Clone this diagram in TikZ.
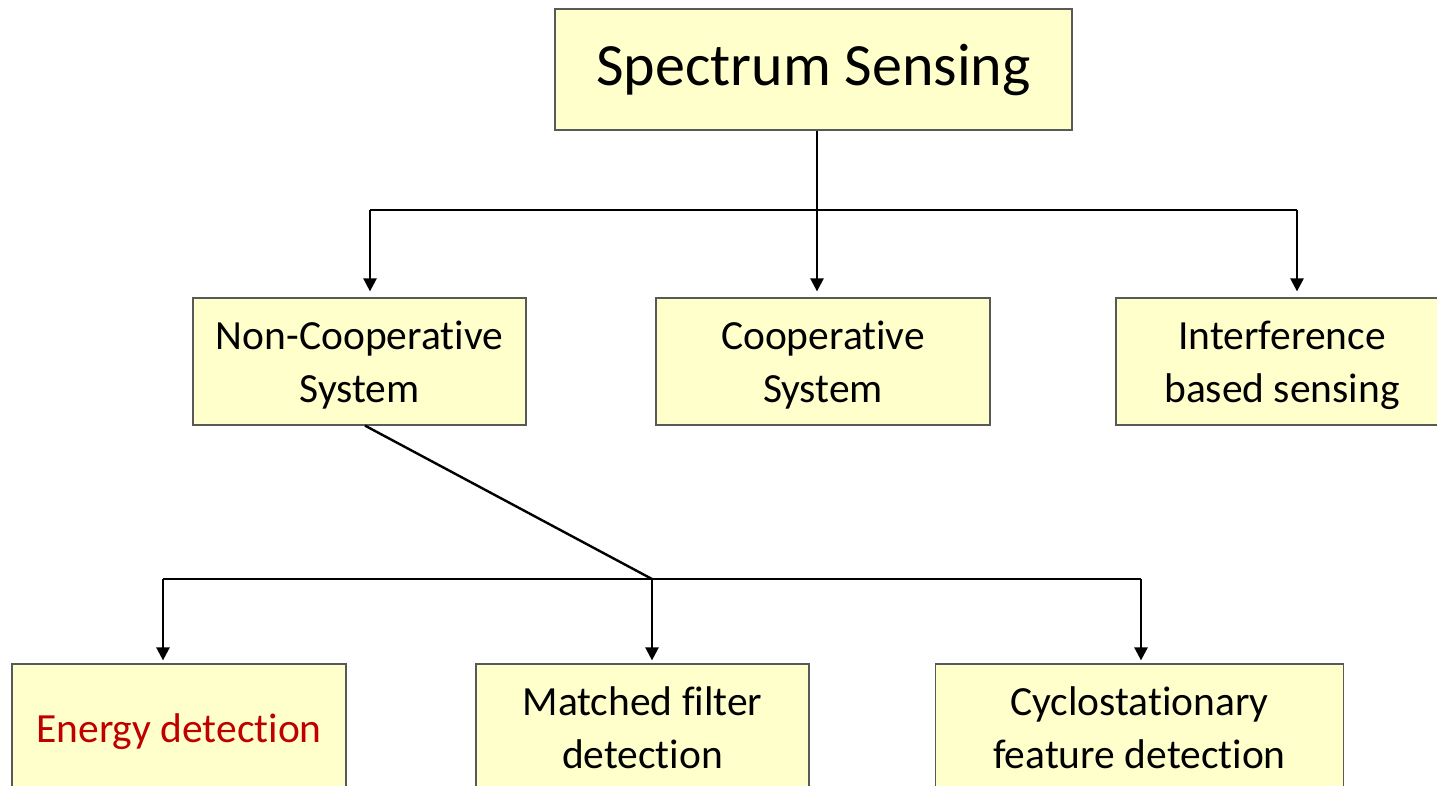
\documentclass[tikz,border=0pt]{standalone}
\usepackage{fontspec}
\setmainfont{Carlito}[Ligatures=NoCommon]
\usetikzlibrary{arrows.meta}
\definecolor{boxfill}{HTML}{FFFFCC}
\definecolor{boxline}{HTML}{595959}
\definecolor{hilite}{HTML}{C00000}
% centred lines, drawn a little below the box centre
\newcommand\boxtext[2][-4pt]{\raisebox{#1}[\height][\depth]{\begin{tabular}{@{}c@{}}#2\end{tabular}}}
\begin{document}
\begin{tikzpicture}[x=1pt,y=-1pt,
  box/.style={draw=boxline,line width=1.2pt,fill=boxfill,inner sep=0pt,
    minimum height=127pt,align=center,font=\fontsize{41.5}{53}\selectfont},
  link/.style={line width=2.4pt,black},
  arr/.style={link,-{Triangle[length=13pt,width=13pt]}}]
\useasboundingbox (0,0) rectangle (1437,785);
\clip (0,0) rectangle (1437,785);

% root
\node[box,minimum width=517pt,minimum height=121pt,font=\fontsize{60}{72}\selectfont]
  (top) at (813.5,69.5) {\boxtext[-2pt]{Spectrum Sensing}};

% second level
\node[box,minimum width=333pt] (nc)   at (359.5,361.5) {\boxtext{Non-Cooperative\\System}};
\node[box,minimum width=334pt] (coop) at (823,361.5)   {\boxtext{Cooperative\\System}};
\node[box,minimum width=332pt] (intf) at (1282,361.5)  {\boxtext{Interference\\based sensing}};

% third level
\node[box,minimum width=334pt,text=hilite] (ed) at (179,727.5) {\boxtext{Energy detection}};
\node[box,minimum width=333pt] (mf) at (642.5,727.5) {\boxtext{Matched filter\\detection}};
\node[box,minimum width=408pt] (cf) at (1139.5,727.5) {\boxtext{Cyclostationary\\feature detection}};

% upper branching
\coordinate (ua) at (370,210);
\coordinate (uc) at (1297,210);
\draw[link] (ua) -- (uc);
\draw[arr,shorten >=6pt] ([xshift=3.5pt]top.south) -- ([xshift=3.5pt]top.south |- coop.north);
\draw[arr,shorten >=6pt] (ua) -- (ua |- nc.north);
\draw[arr,shorten >=6pt] (uc) -- (uc |- intf.north);

% lower branching
\coordinate (la) at (163,579);
\coordinate (lb) at (652,579);
\coordinate (lc) at (1141,579);
\draw[link] ([xshift=5.5pt]nc.south) -- (lb);
\draw[link] (la) -- (lc);
\draw[arr,shorten >=3pt] (la) -- (la |- ed.north);
\draw[arr,shorten >=3pt] (lb) -- (lb |- mf.north);
\draw[arr,shorten >=3pt] (lc) -- (lc |- cf.north);
\end{tikzpicture}
\end{document}
